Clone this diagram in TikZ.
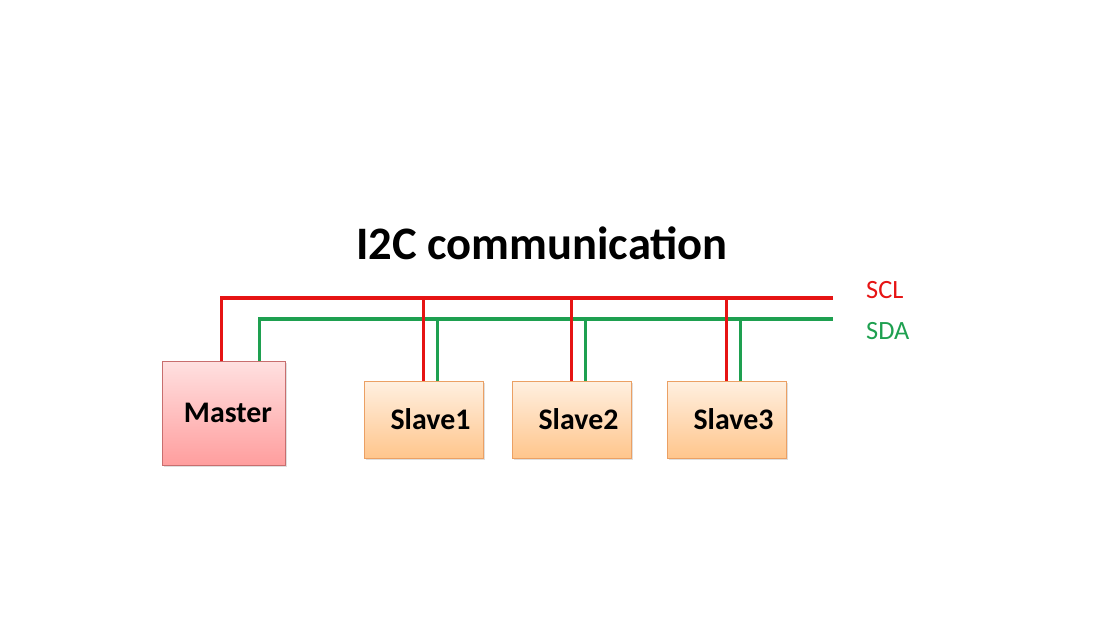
\documentclass[tikz,border=0pt]{standalone}
\usepackage{fontspec}
\setmainfont{Carlito}
\usetikzlibrary{positioning, shadows, calc}
\definecolor{sclred}{RGB}{230,20,20}
\definecolor{sdagreen}{RGB}{30,160,80}
\definecolor{masterline}{RGB}{200,110,110}
\definecolor{slaveline}{RGB}{235,160,100}

\begin{document}
\begin{tikzpicture}[
    x=0.02cm, y=-0.02cm,
    master/.style={draw=masterline, thin, top color=red!12, bottom color=red!38!white, minimum width=2.46cm, minimum height=2.08cm, font=\fontsize{17}{20}\selectfont\bfseries, drop shadow={opacity=0.25, shadow xshift=0.04cm, shadow yshift=-0.04cm}},
    slave/.style={draw=slaveline, thin, top color=orange!12, bottom color=orange!45!white, minimum width=2.38cm, minimum height=1.54cm, font=\fontsize{17}{20}\selectfont\bfseries, drop shadow={opacity=0.25, shadow xshift=0.04cm, shadow yshift=-0.04cm}},
    scl/.style={draw=sclred, line width=1.9pt},
    sda/.style={draw=sdagreen, line width=1.9pt}
]
    \useasboundingbox (0,0) rectangle (1114,642);

    % Title
    \node[font=\fontsize{26.5}{30}\selectfont\bfseries] (title) at (542,243) {I2C communication};

    % Devices
    \node[master] (master) at (223.5,413) {\hspace*{0.18cm}Master};
    \node[slave] (s1) at (423.5,419.5) {\hspace*{0.28cm}Slave1};
    \node[slave] (s2) at (571.5,419.5) {\hspace*{0.28cm}Slave2};
    \node[slave] (s3) at (726.5,419.5) {\hspace*{0.28cm}Slave3};

    % Bus ends and labels
    \coordinate (sclend) at (833,298);
    \coordinate (sdaend) at (833,319);
    \node[font=\fontsize{15}{18}\selectfont, text=sclred, anchor=west] (scllabel) at (860,290) {SCL};
    \node[font=\fontsize{15}{18}\selectfont, text=sdagreen, anchor=west] (sdalabel) at (860,331) {SDA};

    % Bus from the master
    \draw[scl] ([xshift=1.2cm]master.north west) |- (sclend);
    \draw[sda] ([xshift=1.96cm]master.north west) |- (sdaend);

    % Slave taps
    \foreach \s in {s1,s2,s3} {
        \draw[scl] ([xshift=1.2cm]\s.north west) -- ([xshift=1.2cm]\s.north west |- sclend);
        \draw[sda] ([xshift=1.48cm]\s.north west) -- ([xshift=1.48cm]\s.north west |- sdaend);
    }
\end{tikzpicture}
\end{document}
